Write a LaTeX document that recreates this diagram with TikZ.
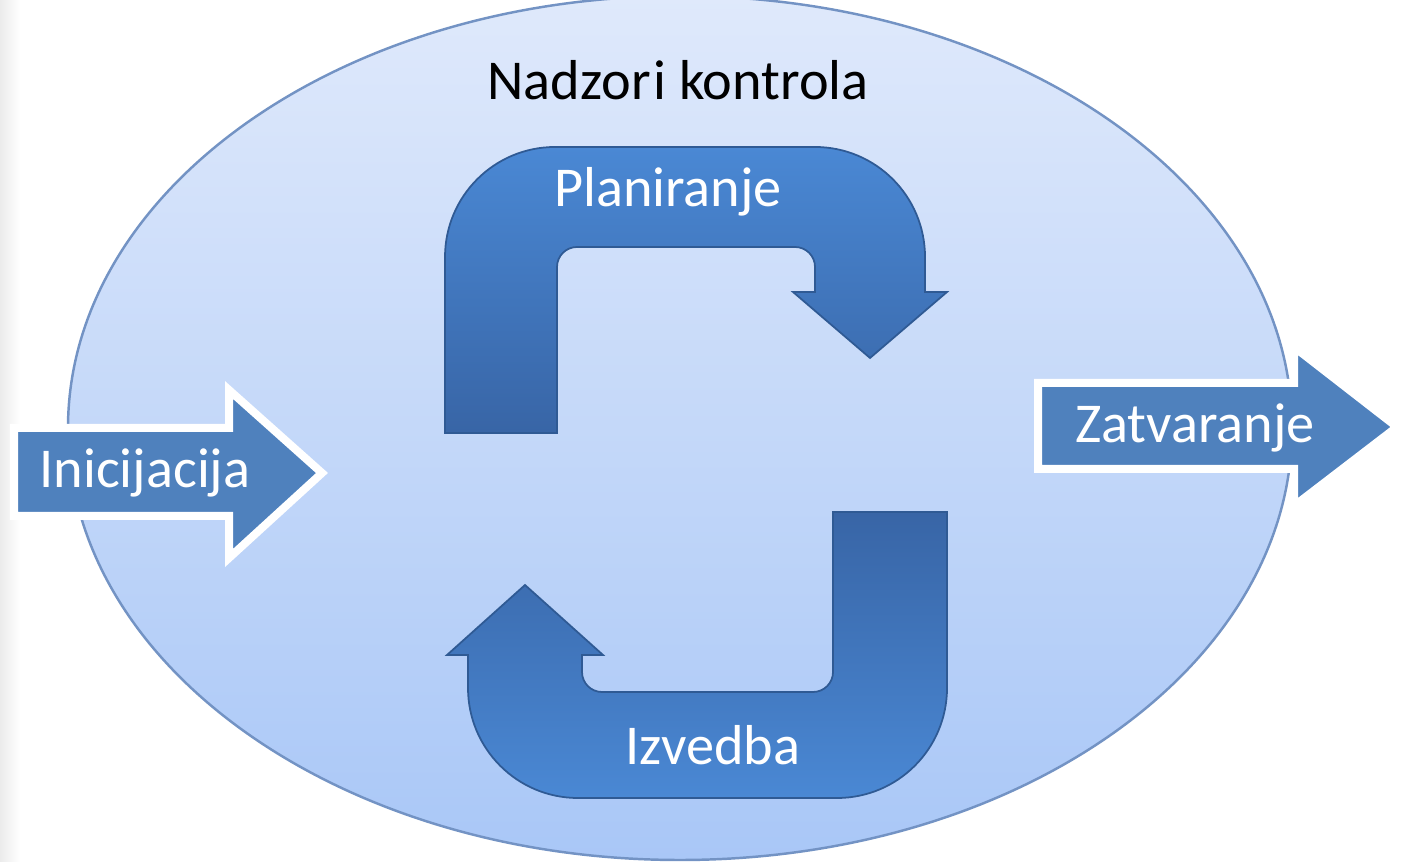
\documentclass[tikz,border=0pt]{standalone}
\usepackage{fontspec}
\setmainfont{Carlito}
\usepackage{tikz}
\usetikzlibrary{positioning}

\definecolor{ovalTop}{HTML}{DFE9FB}
\definecolor{ovalBot}{HTML}{A9C7F7}
\definecolor{ovalRim}{HTML}{7393C4}
\definecolor{flatBlue}{HTML}{4F81BD}
\definecolor{bendLight}{HTML}{4A88D4}
\definecolor{bendDark}{HTML}{3865A6}
\definecolor{bendRim}{HTML}{2F5A94}

\begin{document}
\begin{tikzpicture}[x=0.01cm,y=-0.01cm,
  lbl/.style={font=\fontsize{16}{19}\selectfont,text=white,inner sep=0pt},
  flatarrow/.style={fill=flatBlue,draw=white,line width=0.08cm,line join=miter},
  bendarrow/.style={draw=bendRim,line width=0.5pt}]
\useasboundingbox (0,0) rectangle (1410,862);
\fill[left color=black!8,right color=white] (0,0) rectangle (20,862);
% the oval
\draw[ovalRim,line width=0.7pt,top color=ovalTop,bottom color=ovalBot]
  (680,428) ellipse [x radius=612,y radius=432];
\node[font=\fontsize{16}{19}\selectfont,inner sep=0pt] (title) at (678,80) {Nadzor\hspace{0.05em}i kontrola};
% upper bend
\path[bendarrow,top color=bendLight,bottom color=bendDark]
  (445,433) -- (445,257) arc (180:270:110) -- (815,147) arc (270:360:110)
  -- (925,292) -- (947,292) -- (870,358) -- (793,292) -- (815,292)
  -- (815,267) arc (0:-90:20) -- (577,247) arc (270:180:20) -- (557,433) -- cycle;
\node[lbl] (plan) at (668,192) {Planiranje};
% lower bend
\path[bendarrow,top color=bendDark,bottom color=bendLight]
  (833,512) -- (947,512) -- (947,688) arc (0:90:110) -- (578,798) arc (90:180:110)
  -- (468,655) -- (447,655) -- (525,585) -- (603,655) -- (582,655)
  -- (582,672) arc (180:90:20) -- (813,692) arc (90:0:20) -- cycle;
\node[lbl] (izv) at (713,745) {Izvedba};
% in and out
\path[flatarrow] (14,428) -- (229,428) -- (229,390) -- (322,473) -- (229,558) -- (229,516) -- (14,516) -- cycle;
\node[lbl] (init) at (145,473) {Inicijacija};
\path[flatarrow] (1038,383) -- (1294,383) -- (1294,347) -- (1397,427) -- (1294,506) -- (1294,469) -- (1038,469) -- cycle;
\node[lbl] (zatv) at (1195,428) {Zatvaranje};
\end{tikzpicture}
\end{document}
